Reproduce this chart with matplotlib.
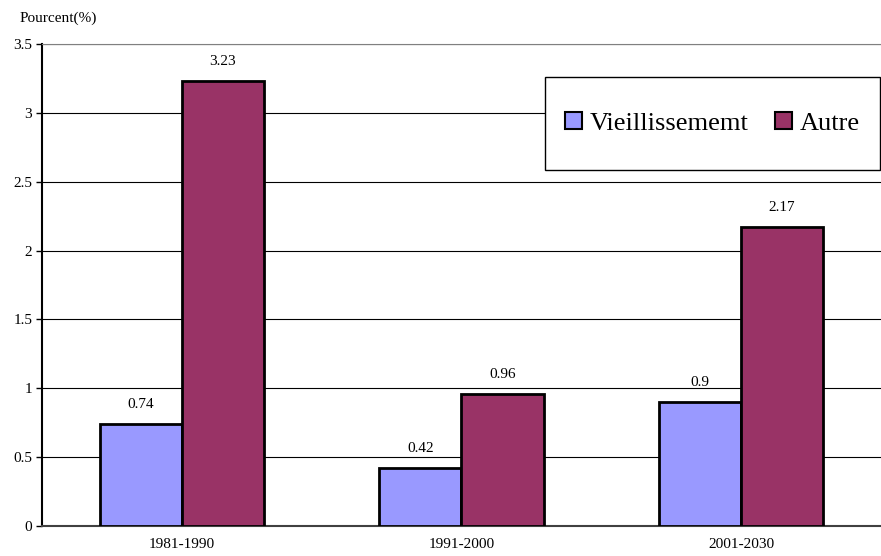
import numpy as np
import matplotlib.pyplot as plt
from matplotlib.patches import Rectangle

periods = ['1981-1990', '1991-2000', '2001-2030']
vieillissement = [0.74, 0.42, 0.9]
autre = [3.23, 0.96, 2.17]
series_names = ['Vieillissememt', 'Autre']
yticks = [0, 0.5, 1, 1.5, 2, 2.5, 3, 3.5]
ytick_labels = ['0', '0.5', '1', '1.5', '2', '2.5', '3', '3.5']

plt.rcParams['font.family'] = ['Liberation Serif', 'DejaVu Serif']

fig = plt.figure(figsize=(8.81, 5.56), dpi=100)
ax = fig.add_axes([0.0477, 0.054, 0.952, 0.867])

x = np.arange(len(periods))
w = 0.294
b1 = ax.bar(x - w / 2, vieillissement, w, color='#9999ff', edgecolor='black',
            linewidth=2, label=series_names[0], zorder=3)
b2 = ax.bar(x + w / 2, autre, w, color='#993366', edgecolor='black',
            linewidth=2, label=series_names[1], zorder=3)

for bars, vals in ((b1, vieillissement), (b2, autre)):
    for rect, v in zip(bars, vals):
        ax.annotate(f'{v:g}', (rect.get_x() + rect.get_width() / 2, v),
                    xytext=(0, 14), textcoords='offset points',
                    ha='center', va='center', fontsize=11)

ax.set_xlim(-0.5, 2.5)
ax.set_ylim(0, 3.5)
ax.set_yticks(yticks)
ax.set_yticklabels(ytick_labels, fontsize=11)
ax.set_xticks(x)
ax.set_xticklabels(periods, fontsize=11)
ax.tick_params(axis='x', length=0, pad=9)
ax.tick_params(axis='y', length=4, width=1, direction='out', pad=3)

ax.yaxis.grid(True, color='black', linewidth=0.8, zorder=0)
ax.set_axisbelow(True)
ax.spines['right'].set_visible(False)
ax.spines['top'].set_color('#808080')
ax.spines['left'].set_linewidth(1.5)
ax.spines['bottom'].set_linewidth(1.5)
ax.spines['bottom'].set_color('#404040')

fig.text(0.022, 0.968, 'Pourcent(%)', fontsize=11, ha='left', va='center')

# legend box drawn separately so the padding can be taller than wide
ax.add_patch(Rectangle((0.6, 0.739), 0.399, 0.193, transform=ax.transAxes,
                       facecolor='white', edgecolor='black', linewidth=1,
                       zorder=4, clip_on=False))
leg = ax.legend(loc='center', bbox_to_anchor=(0.7995, 0.8355), ncol=2,
                fontsize=19, frameon=False, handlelength=0.65,
                handleheight=0.65, handletextpad=0.3, columnspacing=1.0,
                borderaxespad=0)
leg.set_zorder(5)
for h in leg.legend_handles:
    h.set_linewidth(1.5)

fig.savefig('out.png', dpi=100)
